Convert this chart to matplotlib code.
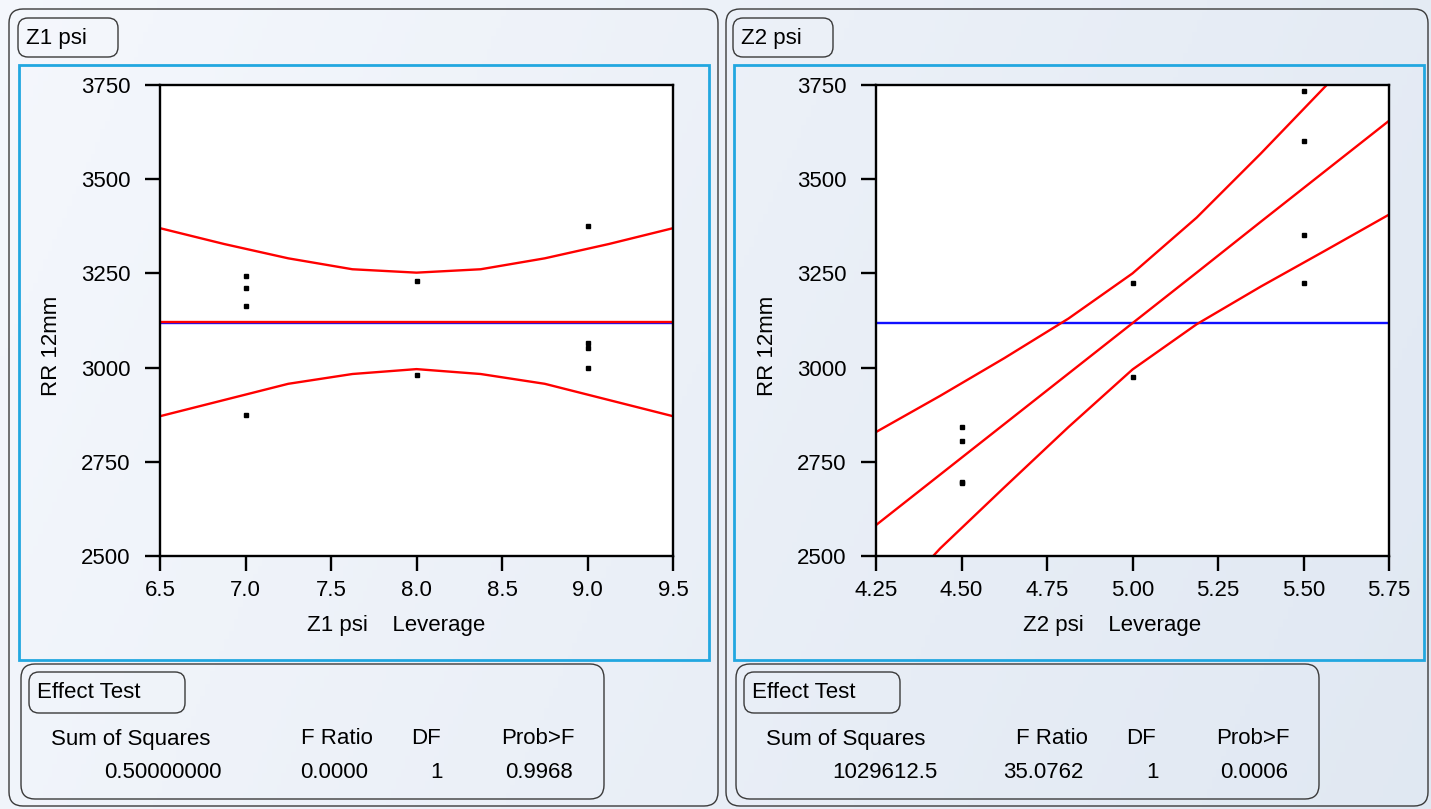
import numpy as np
import matplotlib
matplotlib.use("Agg")
import matplotlib.pyplot as plt
from matplotlib.patches import FancyBboxPatch, Rectangle
from matplotlib.ticker import FormatStrFormatter

plt.rcParams['font.family'] = ['Liberation Sans', 'DejaVu Sans']

# ---- data ----
# Z1 psi leverage plot
z1_x = [7.0, 7.0, 7.0, 7.0, 8.0, 8.0, 9.0, 9.0, 9.0, 9.0]
z1_y = [3242, 3210, 3163, 2873, 3229, 2980, 3375, 3065, 3051, 2998]
z1_knots = [6.5, 6.875, 7.25, 7.625, 8.0, 8.375, 8.75, 9.125, 9.5]
z1_fit = [3120, 3120, 3120, 3120, 3120, 3120, 3120, 3120, 3120]
z1_upper = [3370, 3328, 3290, 3261, 3252, 3261, 3290, 3328, 3370]
z1_lower = [2871, 2914, 2957, 2983, 2996, 2983, 2957, 2914, 2871]

# Z2 psi leverage plot
z2_x = [4.5, 4.5, 4.5, 4.5, 5.0, 5.0, 5.5, 5.5, 5.5, 5.5]
z2_y = [2843, 2804, 2697, 2693, 3225, 2976, 3733, 3601, 3352, 3225]
z2_knots = [4.25, 4.4375, 4.625, 4.8125, 5.0, 5.1875, 5.375, 5.5625, 5.75]
z2_fit = [2582, 2716, 2850, 2984, 3118, 3252, 3387, 3521, 3655]
z2_upper = [2829, 2925, 3025, 3130, 3250, 3398, 3568, 3745, 3920]
z2_lower = [2335, 2520, 2682, 2842, 2995, 3115, 3215, 3310, 3406]

y_mean = 3118

y_ticks = [2500, 2750, 3000, 3250, 3500, 3750]
z1_ticks = [6.5, 7.0, 7.5, 8.0, 8.5, 9.0, 9.5]
z2_ticks = [4.25, 4.50, 4.75, 5.00, 5.25, 5.50, 5.75]

# Effect Test tables
table_head = ["Sum of Squares", "F Ratio", "DF", "Prob>F"]
z1_row = ["0.50000000", "0.0000", "1", "0.9968"]
z2_row = ["1029612.5", "35.0762", "1", "0.0006"]

W, H = 1431, 809
FS = 16


def px_rect(x0, y0, x1, y1):
    return [x0 / W, 1 - y1 / H, (x1 - x0) / W, (y1 - y0) / H]


fig = plt.figure(figsize=(W / 100, H / 100), dpi=100)

# background gradient
bg = fig.add_axes([0, 0, 1, 1], zorder=-10)
gx = np.linspace(0, 1, 300)
gy = np.linspace(0, 1, 200)
GX, GY = np.meshgrid(gx, gy)
c0 = np.array([0.96, 0.97, 0.99])
c1 = np.array([0.88, 0.91, 0.95])
t = np.clip(0.8 * GX + 0.2 * GY, 0, 1)[..., None]
img = c0 * (1 - t) + c1 * t
bg.imshow(img, extent=[0, W, H, 0], aspect='auto')
bg.set_xlim(0, W)
bg.set_ylim(H, 0)
bg.axis('off')

# overlay for frames and text, in pixel units
ov = fig.add_axes([0, 0, 1, 1], zorder=-5)
ov.set_xlim(0, W)
ov.set_ylim(H, 0)
ov.axis('off')
ov.patch.set_alpha(0)


def rbox(x0, y0, x1, y1, r=12, lw=1.0, ec='#3a3a3a'):
    ov.add_patch(FancyBboxPatch((x0, y0), x1 - x0, y1 - y0,
                                boxstyle=f"round,pad=0,rounding_size={r}",
                                fc='none', ec=ec, lw=lw))


def panel(px0, px1, dx, title, xname, ax_x0, xs, ys, knots, fit, upper, lower,
          xticks, xfmt, row):
    # outer panel
    rbox(px0, 9, px1, 806, r=14, lw=1.0)
    # title box
    rbox(18 + dx, 18, 118 + dx, 57, r=10, lw=1.0)
    ov.text(26 + dx, 38, title, fontsize=FS, va='center', ha='left')
    # blue frame
    ov.add_patch(Rectangle((19 + dx, 65), 690, 595, fc='none',
                           ec='#22a7e0', lw=2.0))
    # plot
    ax = fig.add_axes(px_rect(ax_x0, 85, ax_x0 + 513, 556))
    ax.set_facecolor('white')
    ax.axhline(y_mean, color='#1010ff', lw=1.7)
    ax.plot(knots, fit, color='#ff0000', lw=1.7)
    ax.plot(knots, upper, color='#ff0000', lw=1.7)
    ax.plot(knots, lower, color='#ff0000', lw=1.7)
    ax.plot(xs, ys, ls='none', marker='s', ms=2.2, color='black')
    ax.set_xlim(xticks[0], xticks[-1])
    ax.set_ylim(y_ticks[0], y_ticks[-1])
    ax.set_xticks(xticks)
    ax.set_yticks(y_ticks)
    ax.xaxis.set_major_formatter(FormatStrFormatter(xfmt))
    for s in ax.spines.values():
        s.set_linewidth(1.7)
        s.set_color('black')
    ax.tick_params(direction='out', length=11, width=1.7, labelsize=FS,
                   colors='black')
    ax.tick_params(axis='x', pad=6)
    ax.tick_params(axis='y', pad=10)
    ax.set_xlabel(xname + "    Leverage", fontsize=FS)
    ax.xaxis.set_label_coords(0.46, -0.147)
    ax.xaxis.label.set_va('center')
    ax.set_ylabel("RR 12mm", fontsize=FS)
    ax.yaxis.set_label_coords(-0.211, 0.446)
    ax.yaxis.label.set_va('center')

    # effect test box
    rbox(21 + dx, 664, 604 + dx, 799, r=14, lw=1.0)
    rbox(29 + dx, 672, 185 + dx, 713, r=10, lw=1.0)
    ov.text(37 + dx, 693, "Effect Test", fontsize=FS, va='center', ha='left')
    hx = [(51, 'left'), (373, 'right'), (426, 'center'), (575, 'right')]
    vx = [(222, 'right'), (368, 'right'), (437, 'center'), (573, 'right')]
    for (x, ha), txt in zip(hx, table_head):
        ov.text(x + dx, 739, txt, fontsize=FS, va='center', ha=ha)
    for (x, ha), txt in zip(vx, row):
        ov.text(x + dx, 773, txt, fontsize=FS, va='center', ha=ha)
    return ax


panel(9, 718, 0, "Z1 psi", "Z1 psi", 160, z1_x, z1_y, z1_knots, z1_fit,
      z1_upper, z1_lower, z1_ticks, '%.1f', z1_row)
panel(726, 1428, 715, "Z2 psi", "Z2 psi", 876, z2_x, z2_y, z2_knots, z2_fit,
      z2_upper, z2_lower, z2_ticks, '%.2f', z2_row)

fig.savefig("out.png", dpi=100)
